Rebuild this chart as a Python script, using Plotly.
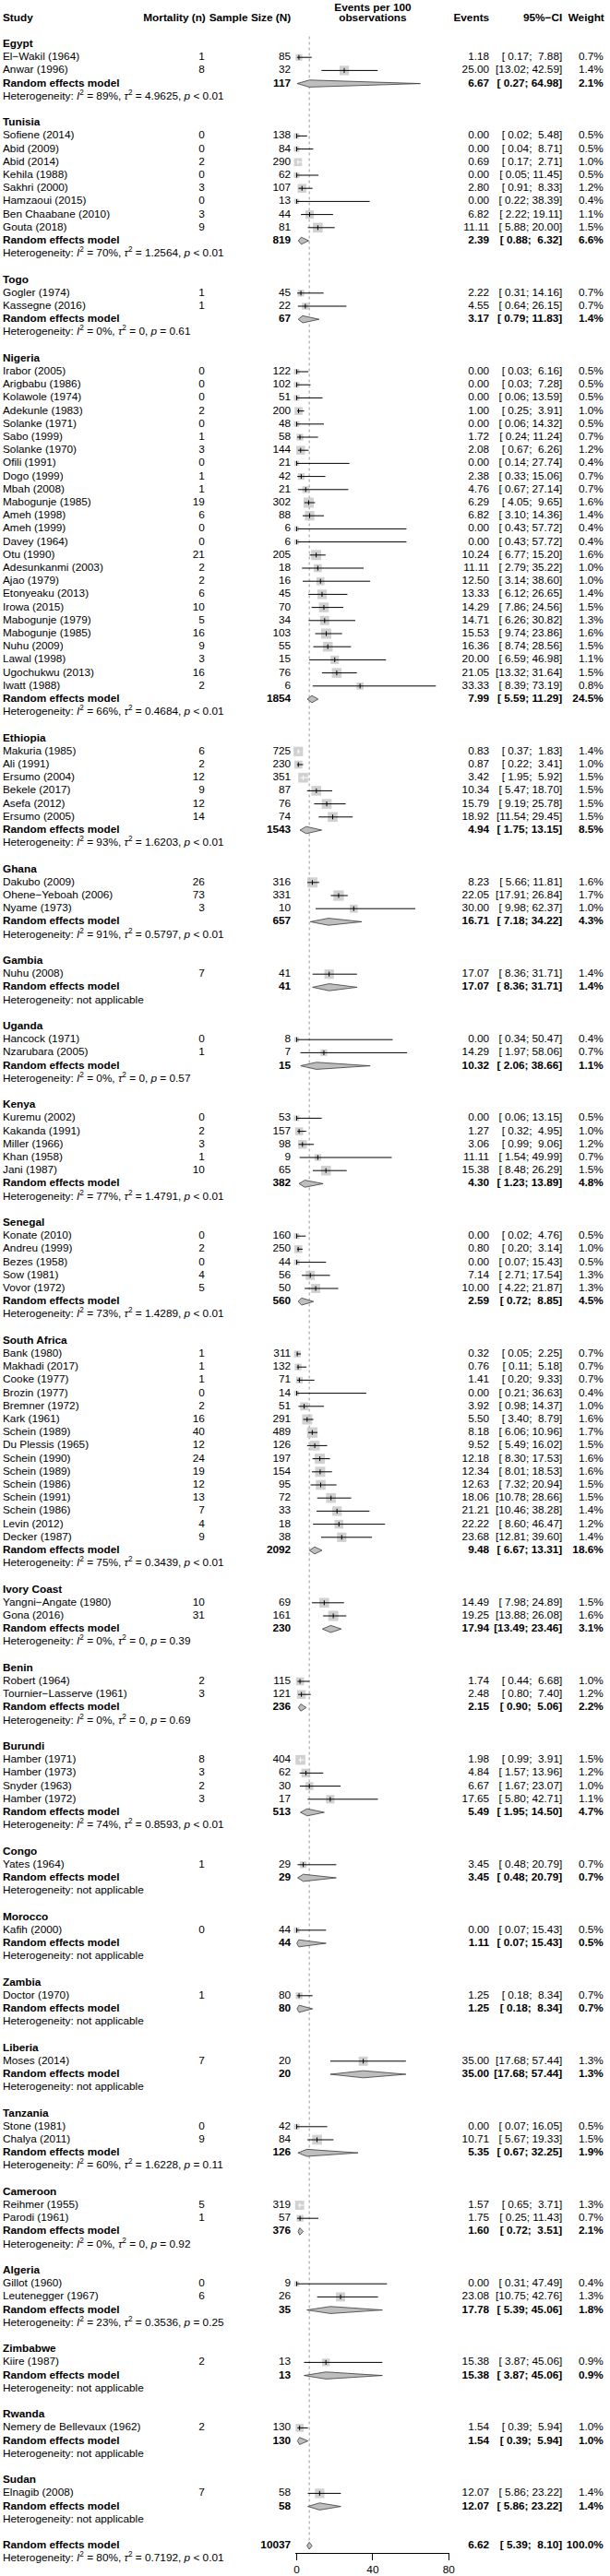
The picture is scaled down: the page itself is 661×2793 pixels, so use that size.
import plotly.graph_objects as go

# ---------------- data ----------------
countries = ["Egypt", "Tunisia", "Togo", "Nigeria", "Ethiopia", "Ghana", "Gambia", "Uganda",
             "Kenya", "Senegal", "South Africa", "Ivory Coast", "Benin", "Burundi", "Congo",
             "Morocco", "Zambia", "Liberia", "Tanzania", "Cameroon", "Algeria", "Zimbabwe",
             "Rwanda", "Sudan"]
country_k = [2, 8, 2, 25, 6, 3, 1, 2, 5, 5, 15, 2, 2, 4, 1, 1, 1, 1, 2, 2, 2, 1, 1, 1]

study_label = [
    "El−Wakil (1964)", "Anwar (1996)",
    "Sofiene (2014)", "Abid (2009)", "Abid (2014)", "Kehila (1988)", "Sakhri (2000)", "Hamzaoui (2015)",
    "Ben Chaabane (2010)", "Gouta (2018)",
    "Gogler (1974)", "Kassegne (2016)",
    "Irabor (2005)", "Arigbabu (1986)", "Kolawole (1974)", "Adekunle (1983)", "Solanke (1971)", "Sabo (1999)",
    "Solanke (1970)", "Ofili (1991)", "Dogo (1999)", "Mbah (2008)", "Mabogunje (1985)", "Ameh (1998)",
    "Ameh (1999)", "Davey (1964)", "Otu (1990)", "Adesunkanmi (2003)", "Ajao (1979)", "Etonyeaku (2013)",
    "Irowa (2015)", "Mabogunje (1979)", "Mabogunje (1985)", "Nuhu (2009)", "Lawal (1998)",
    "Ugochukwu (2013)", "Iwatt (1988)",
    "Makuria (1985)", "Ali (1991)", "Ersumo (2004)", "Bekele (2017)", "Asefa (2012)", "Ersumo (2005)",
    "Dakubo (2009)", "Ohene−Yeboah (2006)", "Nyame (1973)",
    "Nuhu (2008)",
    "Hancock (1971)", "Nzarubara (2005)",
    "Kuremu (2002)", "Kakanda (1991)", "Miller (1966)", "Khan (1958)", "Jani (1987)",
    "Konate (2010)", "Andreu (1999)", "Bezes (1958)", "Sow (1981)", "Vovor (1972)",
    "Bank (1980)", "Makhadi (2017)", "Cooke (1977)", "Brozin (1977)", "Bremner (1972)", "Kark (1961)",
    "Schein (1989)", "Du Plessis (1965)", "Schein (1990)", "Schein (1989)", "Schein (1986)",
    "Schein (1991)", "Schein (1986)", "Levin (2012)", "Decker (1987)",
    "Yangni−Angate (1980)", "Gona (2016)",
    "Robert (1964)", "Tournier−Lasserve (1961)",
    "Hamber (1971)", "Hamber (1973)", "Snyder (1963)", "Hamber (1972)",
    "Yates (1964)",
    "Kafih (2000)",
    "Doctor (1970)",
    "Moses (2014)",
    "Stone (1981)", "Chalya (2011)",
    "Reihmer (1955)", "Parodi (1961)",
    "Gillot (1960)", "Leutenegger (1967)",
    "Kiire (1987)",
    "Nemery de Bellevaux (1962)",
    "Elnagib (2008)"]

study_events = [1, 8, 0, 0, 2, 0, 3, 0, 3, 9, 1, 1,
                0, 0, 0, 2, 0, 1, 3, 0, 1, 1, 19, 6, 0, 0, 21, 2, 2, 6, 10, 5, 16, 9, 3, 16, 2,
                6, 2, 12, 9, 12, 14, 26, 73, 3, 7, 0, 1, 0, 2, 3, 1, 10, 0, 2, 0, 4, 5,
                1, 1, 1, 0, 2, 16, 40, 12, 24, 19, 12, 13, 7, 4, 9, 10, 31, 2, 3, 8, 3, 2, 3,
                1, 0, 1, 7, 0, 9, 5, 1, 0, 6, 2, 2, 7]

study_n = [85, 32, 138, 84, 290, 62, 107, 13, 44, 81, 45, 22,
           122, 102, 51, 200, 48, 58, 144, 21, 42, 21, 302, 88, 6, 6, 205, 18, 16, 45, 70, 34, 103, 55, 15, 76, 6,
           725, 230, 351, 87, 76, 74, 316, 331, 10, 41, 8, 7, 53, 157, 98, 9, 65, 160, 250, 44, 56, 50,
           311, 132, 71, 14, 51, 291, 489, 126, 197, 154, 95, 72, 33, 18, 38, 69, 161, 115, 121, 404, 62, 30, 17,
           29, 44, 80, 20, 42, 84, 319, 57, 9, 26, 13, 130, 58]

study_est = [1.18, 25.00, 0.00, 0.00, 0.69, 0.00, 2.80, 0.00, 6.82, 11.11, 2.22, 4.55,
             0.00, 0.00, 0.00, 1.00, 0.00, 1.72, 2.08, 0.00, 2.38, 4.76, 6.29, 6.82, 0.00, 0.00, 10.24, 11.11,
             12.50, 13.33, 14.29, 14.71, 15.53, 16.36, 20.00, 21.05, 33.33,
             0.83, 0.87, 3.42, 10.34, 15.79, 18.92, 8.23, 22.05, 30.00, 17.07, 0.00, 14.29,
             0.00, 1.27, 3.06, 11.11, 15.38, 0.00, 0.80, 0.00, 7.14, 10.00,
             0.32, 0.76, 1.41, 0.00, 3.92, 5.50, 8.18, 9.52, 12.18, 12.34, 12.63, 18.06, 21.21, 22.22, 23.68,
             14.49, 19.25, 1.74, 2.48, 1.98, 4.84, 6.67, 17.65, 3.45, 0.00, 1.25, 35.00, 0.00, 10.71,
             1.57, 1.75, 0.00, 23.08, 15.38, 1.54, 12.07]

study_lo = [0.17, 13.02, 0.02, 0.04, 0.17, 0.05, 0.91, 0.22, 2.22, 5.88, 0.31, 0.64,
            0.03, 0.03, 0.06, 0.25, 0.06, 0.24, 0.67, 0.14, 0.33, 0.67, 4.05, 3.10, 0.43, 0.43, 6.77, 2.79,
            3.14, 6.12, 7.86, 6.26, 9.74, 8.74, 6.59, 13.32, 8.39,
            0.37, 0.22, 1.95, 5.47, 9.19, 11.54, 5.66, 17.91, 9.98, 8.36, 0.34, 1.97,
            0.06, 0.32, 0.99, 1.54, 8.48, 0.02, 0.20, 0.07, 2.71, 4.22,
            0.05, 0.11, 0.20, 0.21, 0.98, 3.40, 6.06, 5.49, 8.30, 8.01, 7.32, 10.78, 10.46, 8.60, 12.81,
            7.98, 13.88, 0.44, 0.80, 0.99, 1.57, 1.67, 5.80, 0.48, 0.07, 0.18, 17.68, 0.07, 5.67,
            0.65, 0.25, 0.31, 10.75, 3.87, 0.39, 5.86]

study_hi = [7.88, 42.59, 5.48, 8.71, 2.71, 11.45, 8.33, 38.39, 19.11, 20.00, 14.16, 26.15,
            6.16, 7.28, 13.59, 3.91, 14.32, 11.24, 6.26, 27.74, 15.06, 27.14, 9.65, 14.36, 57.72, 57.72, 15.20,
            35.22, 38.60, 26.65, 24.56, 30.82, 23.86, 28.56, 46.98, 31.64, 73.19,
            1.83, 3.41, 5.92, 18.70, 25.78, 29.45, 11.81, 26.84, 62.37, 31.71, 50.47, 58.06,
            13.15, 4.95, 9.06, 49.99, 26.29, 4.76, 3.14, 15.43, 17.54, 21.87,
            2.25, 5.18, 9.33, 36.63, 14.37, 8.79, 10.96, 16.02, 17.53, 18.53, 20.94, 28.66, 38.28, 46.47, 39.60,
            24.89, 26.08, 6.68, 7.40, 3.91, 13.96, 23.07, 42.71, 20.79, 15.43, 8.34, 57.44, 16.05, 19.33,
            3.71, 11.43, 47.49, 42.76, 45.06, 5.94, 23.22]

study_w = [0.7, 1.4, 0.5, 0.5, 1.0, 0.5, 1.2, 0.4, 1.1, 1.5, 0.7, 0.7,
           0.5, 0.5, 0.5, 1.0, 0.5, 0.7, 1.2, 0.4, 0.7, 0.7, 1.6, 1.4, 0.4, 0.4, 1.6, 1.0, 1.0, 1.4, 1.5, 1.3,
           1.6, 1.5, 1.1, 1.5, 0.8,
           1.4, 1.0, 1.5, 1.5, 1.5, 1.5, 1.6, 1.7, 1.0, 1.4, 0.4, 0.7, 0.5, 1.0, 1.2, 0.7, 1.5,
           0.5, 1.0, 0.5, 1.3, 1.3,
           0.7, 0.7, 0.7, 0.4, 1.0, 1.6, 1.7, 1.5, 1.6, 1.6, 1.5, 1.5, 1.4, 1.2, 1.4,
           1.5, 1.6, 1.0, 1.2, 1.5, 1.2, 1.0, 1.1, 0.7, 0.5, 0.7, 1.3, 0.5, 1.5, 1.3, 0.7, 0.4, 1.3, 0.9, 1.0, 1.4]

pooled_n = [117, 819, 67, 1854, 1543, 657, 41, 15, 382, 560, 2092, 230, 236, 513, 29, 44, 80, 20, 126, 376,
            35, 13, 130, 58]
pooled_est = [6.67, 2.39, 3.17, 7.99, 4.94, 16.71, 17.07, 10.32, 4.30, 2.59, 9.48, 17.94, 2.15, 5.49, 3.45,
              1.11, 1.25, 35.00, 5.35, 1.60, 17.78, 15.38, 1.54, 12.07]
pooled_lo = [0.27, 0.88, 0.79, 5.59, 1.75, 7.18, 8.36, 2.06, 1.23, 0.72, 6.67, 13.49, 0.90, 1.95, 0.48,
             0.07, 0.18, 17.68, 0.67, 0.72, 5.39, 3.87, 0.39, 5.86]
pooled_hi = [64.98, 6.32, 11.83, 11.29, 13.15, 34.22, 31.71, 38.66, 13.89, 8.85, 13.31, 23.46, 5.06, 14.50,
             20.79, 15.43, 8.34, 57.44, 32.25, 3.51, 45.06, 45.06, 5.94, 23.22]
pooled_w = [2.1, 6.6, 1.4, 24.5, 8.5, 4.3, 1.4, 1.1, 4.8, 4.5, 18.6, 3.1, 2.2, 4.7, 0.7, 0.5, 0.7, 1.3, 1.9,
            2.1, 1.8, 0.9, 1.0, 1.4]
het_i2 = ["89%", "70%", "0%", "66%", "93%", "91%", None, "0%", "77%", "73%", "75%", "0%", "0%", "74%",
          None, None, None, None, "60%", "0%", "23%", None, None, None]
het_tau2 = ["4.9625", "1.2564", "0", "0.4684", "1.6203", "0.5797", None, "0", "1.4791", "1.4289", "0.3439",
            "0", "0", "0.8593", None, None, None, None, "1.6228", "0", "0.3536", None, None, None]
het_p = ["< 0.01", "< 0.01", "= 0.61", "< 0.01", "< 0.01", "< 0.01", None, "= 0.57", "< 0.01", "< 0.01",
         "< 0.01", "= 0.39", "= 0.69", "< 0.01", None, None, None, None, "= 0.11", "= 0.92", "= 0.25",
         None, None, None]

overall_n = 10037
overall_est, overall_lo, overall_hi, overall_w = 6.62, 5.39, 8.10, 100.0
overall_i2, overall_tau2, overall_p = "80%", "0.7192", "< 0.01"

x_ticks = [0, 40, 80]
col_headers = ["Study", "Mortality (n)", "Sample Size (N)", "Events", "95%−CI", "Weight"]
forest_header = ["Events per 100", "observations"]

# ---------------- layout constants ----------------
W, H = 661, 2793
FONT = "Liberation Sans, Arial, Helvetica, sans-serif"
FS = 11.8
ROW0 = 48.0       # pixel y of first row
ROWH = 14.2       # pixel height of a row
X0, X80 = 323.4, 490.3   # pixel x of 0 and 80 on forest axis
PPU = (X80 - X0) / 80.0
PAD = 0.5
X_STUDY, X_MORT, X_N, X_EV, X_CI, X_W = 1.0, 222.5, 317.0, 534.6, 614.7, 659.8
X_FCENTER = (X0 + X80) / 2
SQ_MAX = 11.3
GRAY = "#BEBEBE"
NB = "\u00a0"


def fmt_ci(lo, hi):
    return ("[" + f"{lo:5.2f}" + "; " + f"{hi:5.2f}" + "]").replace(" ", NB)


def het_text(i2, tau2, p):
    if i2 is None:
        return "Heterogeneity: not applicable"
    p = p.replace("<", "&lt;")
    return ("Heterogeneity: <i>I</i><sup>2</sup> = " + i2 + ", <i>τ</i><sup>2</sup> = " + tau2 +
            ", <i>p</i> " + p)


# ---------------- row assignment ----------------
title_r, study_r, pooled_r, het_r = [], [], [], []
r = 0
for g, k in enumerate(country_k):
    title_r.append(r)
    r += 1
    for _ in range(k):
        study_r.append(r)
        r += 1
    pooled_r.append(r)
    het_r.append(r + 1)
    r += 3
overall_r = r
overall_het_r = r + 1

fig = go.Figure()


def text_trace(xs, ys, texts, pos, bold=False):
    return go.Scatter(x=xs, y=ys, text=texts, mode="text", textposition=pos,
                      textfont=dict(family=FONT, size=FS, color="black",
                                    weight="bold" if bold else "normal"),
                      xaxis="x2", yaxis="y", hoverinfo="skip", cliponaxis=False, showlegend=False)


# dotted reference line at overall estimate
fig.add_trace(go.Scatter(x=[overall_est, overall_est], y=[-0.6, overall_r - 0.3], mode="lines",
                         line=dict(color="#9A9A9A", width=1, dash="dot"), hoverinfo="skip",
                         showlegend=False))

# squares
sizes = [SQ_MAX * (w / max(study_w)) ** 0.5 for w in study_w]
fig.add_trace(go.Scatter(x=study_est, y=study_r, mode="markers",
                         marker=dict(symbol="square", size=sizes, color=GRAY, line=dict(width=0)),
                         cliponaxis=False, hoverinfo="skip", showlegend=False))

# CI lines and tick marks, colour depends on whether CI lies inside the square
lines = {"black": ([], []), "white": ([], [])}
TICK = 0.18
for e, lo, hi, yr, s in zip(study_est, study_lo, study_hi, study_r, sizes):
    half = s / 2 / PPU
    col = "white" if (lo >= e - half and hi <= e + half) else "black"
    xs, ys = lines[col]
    xs += [lo, hi, None, e, e, None]
    ys += [yr, yr, None, yr - TICK, yr + TICK, None]
for col, (xs, ys) in lines.items():
    fig.add_trace(go.Scatter(x=xs, y=ys, mode="lines", line=dict(color=col, width=1),
                             hoverinfo="skip", showlegend=False))

# diamonds
DH = 0.27
dx, dy = [], []
for e, lo, hi, yr in zip(pooled_est + [overall_est], pooled_lo + [overall_lo], pooled_hi + [overall_hi],
                         pooled_r + [overall_r]):
    dx += [lo, e, hi, e, lo, None]
    dy += [yr, yr - DH, yr, yr + DH, yr, None]
fig.add_trace(go.Scatter(x=dx, y=dy, mode="lines", fill="toself", fillcolor=GRAY,
                         line=dict(color="#3A3A3A", width=0.8), hoverinfo="skip", showlegend=False))

# ---------------- text columns ----------------
# headers
fig.add_trace(text_trace([X_STUDY], [-2], [col_headers[0]], "middle right", bold=True))
fig.add_trace(text_trace([X_MORT + 1, X_N, X_EV, X_CI, X_W + 1], [-2] * 5, col_headers[1:],
                         "middle left", bold=True))
fig.add_trace(text_trace([X_FCENTER, X_FCENTER], [-2.76, -1.96], forest_header, "middle center", bold=True))

# left bold: country titles, random effects labels
fig.add_trace(text_trace([X_STUDY] * (len(countries) + len(pooled_r) + 1),
                         title_r + pooled_r + [overall_r],
                         countries + ["Random effects model"] * (len(pooled_r) + 1),
                         "middle right", bold=True))
# left regular: studies + heterogeneity
het_texts = [het_text(a, b, c) for a, b, c in zip(het_i2, het_tau2, het_p)]
het_texts.append(het_text(overall_i2, overall_tau2, overall_p))
fig.add_trace(text_trace([X_STUDY] * (len(study_label) + len(het_texts)),
                         study_r + het_r + [overall_het_r],
                         study_label + het_texts, "middle right"))

# right-aligned study columns
fig.add_trace(text_trace([X_MORT] * len(study_r), study_r, [str(v) for v in study_events], "middle left"))
fig.add_trace(text_trace([X_N] * len(study_r), study_r, [str(v) for v in study_n], "middle left"))
fig.add_trace(text_trace([X_EV] * len(study_r), study_r, [f"{v:.2f}" for v in study_est], "middle left"))
fig.add_trace(text_trace([X_CI] * len(study_r), study_r,
                         [fmt_ci(a, b) for a, b in zip(study_lo, study_hi)], "middle left"))
fig.add_trace(text_trace([X_W] * len(study_r), study_r, [f"{v:.1f}%" for v in study_w], "middle left"))

# pooled rows (bold)
pr = pooled_r + [overall_r]
fig.add_trace(text_trace([X_N] * len(pr), pr, [str(v) for v in pooled_n + [overall_n]], "middle left",
                         bold=True))
fig.add_trace(text_trace([X_EV] * len(pr), pr, [f"{v:.2f}" for v in pooled_est + [overall_est]],
                         "middle left", bold=True))
fig.add_trace(text_trace([X_CI] * len(pr), pr,
                         [fmt_ci(a, b) for a, b in zip(pooled_lo + [overall_lo], pooled_hi + [overall_hi])],
                         "middle left", bold=True))
fig.add_trace(text_trace([X_W] * len(pr), pr, [f"{v:.1f}%" for v in pooled_w + [overall_w]],
                         "middle left", bold=True))

# ---------------- axes ----------------
r_top = -ROW0 / ROWH
r_bot = (H - ROW0) / ROWH
AXIS_Y = 2767.7

fig.update_layout(
    width=W, height=H, margin=dict(l=0, r=0, t=0, b=0),
    paper_bgcolor="white", plot_bgcolor="rgba(0,0,0,0)",
    showlegend=False,
    xaxis=dict(domain=[(X0 - PAD * PPU) / W, (X80 + PAD * PPU) / W], range=[-PAD, 80 + PAD],
               anchor="free", position=(H - AXIS_Y) / H,
               tickvals=x_ticks, ticktext=[str(t) for t in x_ticks],
               showline=True, linecolor="black", linewidth=1,
               ticks="outside", ticklen=7, tickwidth=1, tickcolor="black",
               tickfont=dict(family=FONT, size=FS, color="black"),
               showgrid=False, zeroline=False, fixedrange=True),
    xaxis2=dict(domain=[0, 1], range=[0, W], anchor="y", visible=False, fixedrange=True),
    yaxis=dict(domain=[0, 1], range=[r_bot, r_top], visible=False, fixedrange=True,
               showgrid=False, zeroline=False),
)

fig.write_html("out.html", config={"displayModeBar": False},
               post_script="document.body.style.margin='0';document.body.style.overflow='hidden';")
